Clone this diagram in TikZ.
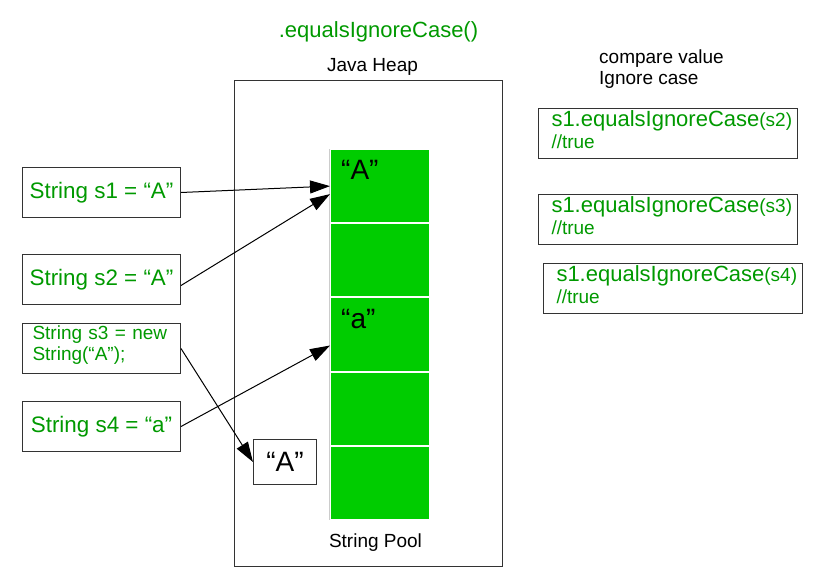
\documentclass[tikz,border=0pt]{standalone}
\usepackage{fontspec}
\setmainfont{Liberation Sans}
\usetikzlibrary{positioning,arrows.meta}
\definecolor{codegreen}{HTML}{009900}
\definecolor{poolgreen}{HTML}{00CC00}
\newlength{\PoolCellHeight}
\setlength{\PoolCellHeight}{73.2pt}
\newlength{\PoolCellWidth}
\setlength{\PoolCellWidth}{99pt}
\newcommand{\eqIC}[1]{{\fontsize{22}{22}\selectfont s1.equalsIgnoreCase}(#1)}
\tikzset{/heap/frame/.style={
	shape=rectangle, draw=black!80, line width=1pt, inner sep=0, minimum width=268pt, minimum height=486pt, anchor=north west
}}
\tikzset{/heap/cell/.style={
	shape=rectangle, draw=white, line width=1pt, fill=poolgreen, inner sep=0, minimum height=\PoolCellHeight, minimum width=\PoolCellWidth, anchor=north west
}}
\tikzset{/heap/var/.style={rectangle, draw=black!80, line width=1pt, inner sep=0, minimum width=158pt, minimum height=50pt, anchor=north west, text=codegreen, font=\fontsize{22.4}{26}\selectfont
}}
\tikzset{/heap/var2/.style={rectangle, draw=black!80, line width=1pt, inner xsep=10pt, inner ysep=0, text width=138pt, text depth=31pt, minimum height=50pt, align=left, anchor=north west, text=codegreen, font=\fontsize{19}{21}\selectfont
}}
\tikzset{/heap/cmp/.style={rectangle, draw=black!80, line width=1pt, inner xsep=13pt, inner ysep=0, text width=233pt, text depth=30pt, minimum height=50pt, align=left, anchor=north west, text=codegreen, font=\fontsize{19}{22}\selectfont
}}
\tikzset{/heap/lit/.style={inner sep=4pt, font=\fontsize{28}{30}\selectfont}}
\tikzset{/heap/label/.style={inner sep=0, font=\fontsize{19}{21}\selectfont}}
\tikzset{/heap/ref/.style={draw, line width=1pt, -{Triangle[length=20pt, width=13pt]}}}

\begin{document}
\begin{tikzpicture}
			\useasboundingbox (0,0) rectangle (819pt,-581pt);
			\path (234pt,-80pt) node[/heap/frame] (Heap) {};
			\path (Heap.north) ++(10pt, 48pt) node[inner sep=0, text=codegreen, font=\fontsize{22}{24}\selectfont] (Title) {.equalsIgnoreCase()};
			\path (Heap.north) ++(4pt, 13pt) node[/heap/label] (HeapLbl) {Java Heap};
			\path (Heap.south) ++(7pt, 24pt) node[/heap/label] (PoolLbl) {String Pool};
			% string pool
			\path (Heap.north west) ++(96pt, -69pt) node[/heap/cell] (C1) {};
			\path (C1.south) node[/heap/cell, anchor=north] (C2) {};
			\path (C2.south) node[/heap/cell, anchor=north] (C3) {};
			\path (C3.south) node[/heap/cell, anchor=north] (C4) {};
			\path (C4.south) node[/heap/cell, anchor=north] (C5) {};
			\path[draw=black!20, line width=0.8pt] ([xshift=-1pt]C1.north west) -- ([xshift=-1pt]C5.south west);
			\path (C1.north west) ++(7pt, -21pt) node[/heap/lit, anchor=west] (LitA) {“A”};
			\path (C3.north west) ++(7pt, -22pt) node[/heap/lit, anchor=west] (Lita) {“a”};
			\path (Heap.north west) ++(19pt, -359pt) node[/heap/var, minimum width=63pt, minimum height=45pt, text=black, font=\fontsize{28}{30}\selectfont] (NewA) {“A”};
			% variables
			\path (22pt,-167pt) node[/heap/var] (S1) {String s1 = “A”};
			\path (S1.south west) ++(0, -36pt) node[/heap/var] (S2) {String s2 = “A”};
			\path (S2.south west) ++(0, -18pt) node[/heap/var2] (S3) {String s3 = new\\String(“A”);};
			\path (S3.south west) ++(0, -27pt) node[/heap/var] (S4) {String s4 = “a”};
			% comparisons
			\path (538pt,-108pt) node[/heap/cmp] (R1) {\eqIC{s2}\\//true};
			\path (R1.south west) ++(0, -35pt) node[/heap/cmp] (R2) {\eqIC{s3}\\//true};
			\path (R2.south west) ++(5pt, -18pt) node[/heap/cmp] (R3) {\eqIC{s4}\\//true};
			\path (R1.north west) ++(61pt, 39pt) node[/heap/label, anchor=west, align=left] (Note) {compare value\\Ignore case};
			\path[/heap/ref] (S1.east) -- (C1.west);
			\path[/heap/ref] ([yshift=-6pt]S2.east) -- ([yshift=-8pt]C1.west);
			\path[/heap/ref] (S3.east) -- (NewA.west);
			\path[/heap/ref] (S4.east) -- ([yshift=-11pt]C3.west);
		\end{tikzpicture}
\end{document}
